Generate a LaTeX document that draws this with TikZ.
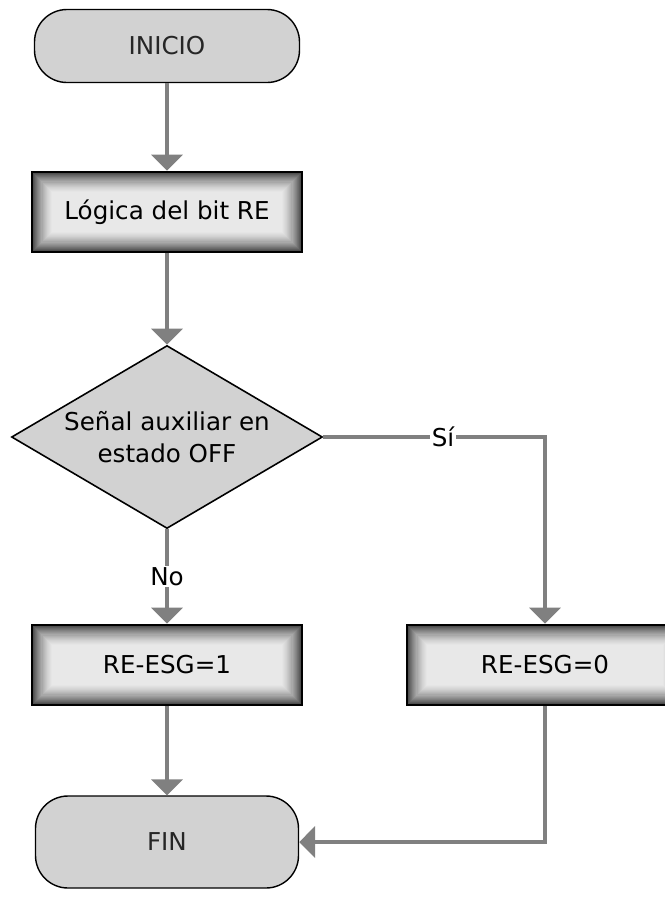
\documentclass[tikz,border=0pt]{standalone}
\usepackage{fontspec}
\setmainfont{DejaVu Sans}
\usetikzlibrary{shapes.geometric,arrows.meta}
\definecolor{LineGray}{RGB}{128,128,128}
\definecolor{TermGray}{RGB}{210,210,210}
\begin{document}
\begin{tikzpicture}[>={Triangle[width=0.62cm,length=0.32cm]},
      flow/.style={->,draw=LineGray,line width=2.3pt},
      term/.style={draw=black,line width=0.8pt,fill=TermGray,rounded corners=0.65cm,
                   minimum width=5.3cm,minimum height=1.46cm,font=\fontsize{14}{17}\selectfont,text=black!85},
      proc/.style={draw=black,line width=1.6pt,minimum width=5.4cm,minimum height=1.6cm,
                   font=\fontsize{14}{17}\selectfont,
                   path picture={
                     \foreach \k in {0,...,20}{
                       \pgfmathtruncatemacro\tone{9+66*(1-\k/20)^1.6}
                       \fill[black!\tone] ([shift={(\k*0.6pt,\k*0.6pt)}]path picture bounding box.south west)
                         rectangle ([shift={(-\k*0.6pt,-\k*0.6pt)}]path picture bounding box.north east);
                     }}},
      dec/.style={diamond,draw=black,line width=0.9pt,fill=TermGray,aspect=1.7,inner sep=0pt,
                  minimum width=6.22cm,minimum height=3.66cm,align=center,
                  font=\fontsize{14}{18.5}\selectfont},
      lbl/.style={fill=white,inner sep=1pt,font=\fontsize{14}{17}\selectfont}]
    \useasboundingbox (0,0) rectangle (13.3,-18);
    % nodes
    \node[term] (start) at (3.34,-0.92) {INICIO};
    \node[proc] (logic) at (3.34,-4.24) {Lógica del bit RE};
    \node[dec]  (check) at (3.34,-8.74) {Señal auxiliar en\\estado OFF};
    \node[proc] (reOne)  at (3.34,-13.3) {RE-ESG=1};
    \node[proc,minimum width=5.52cm] (reZero) at (10.9,-13.3) {RE-ESG=0};
    \node[term,minimum width=5.26cm,minimum height=1.84cm] (stop) at (3.34,-16.84) {FIN};
    % connectors
    \draw[flow] (start) -- (logic);
    \draw[flow] (logic) -- (check);
    \draw[flow] (check) -- node[lbl] {No} (reOne);
    \draw[flow] (check.east) -| node[lbl,pos=0.27] {Sí} (reZero);
    \draw[flow] (reOne) -- (stop);
    \draw[flow] (reZero.south) |- (stop.east);
\end{tikzpicture}
\end{document}
